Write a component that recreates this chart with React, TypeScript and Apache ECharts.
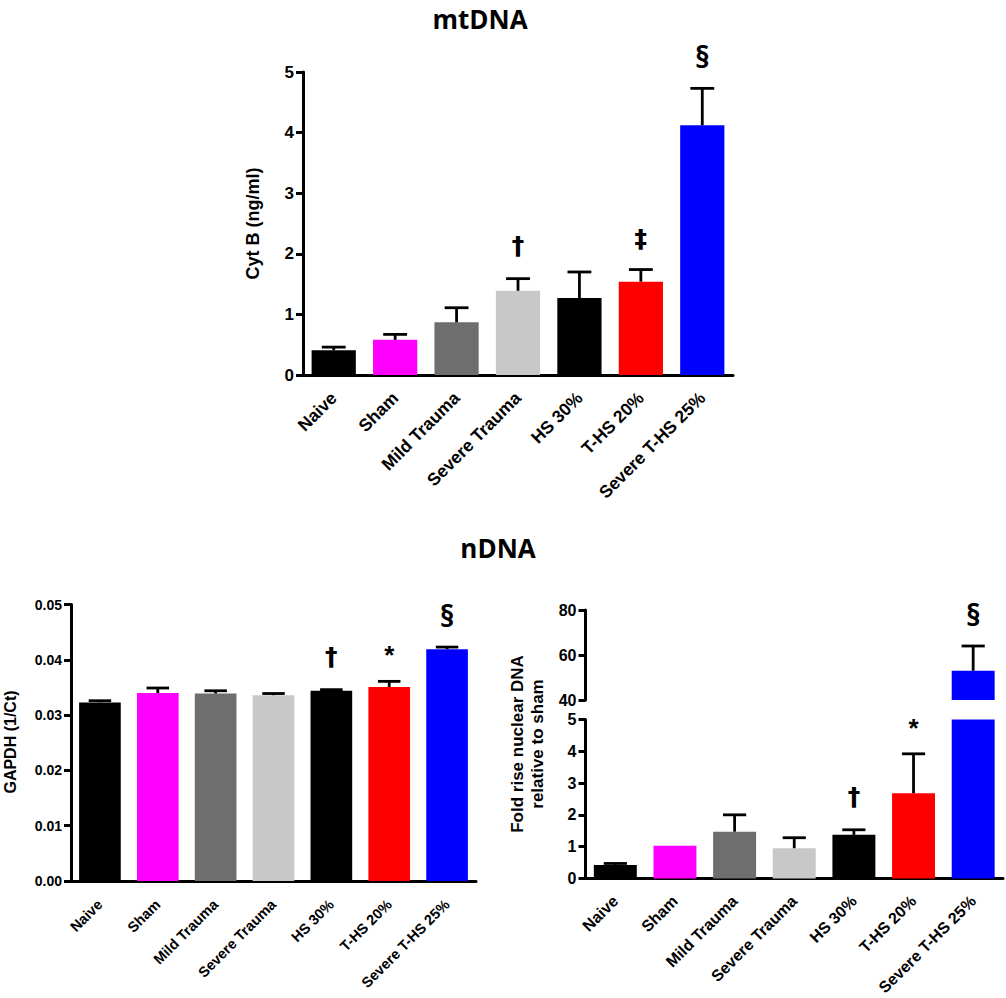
import React, { useEffect, useRef } from 'react';
import * as echarts from 'echarts';

const categories = ['Naive', 'Sham', 'Mild Trauma', 'Severe Trauma', 'HS 30%', 'T-HS 20%', 'Severe T-HS 25%'];
const barColors = ['#000000', '#ff00ff', '#6e6e6e', '#c8c8c8', '#000000', '#ff0000', '#0000ff'];

// mtDNA – Cyt B (ng/ml)
const mtValues = [0.41, 0.58, 0.87, 1.39, 1.27, 1.54, 4.12];
const mtErrTop = [0.46, 0.67, 1.11, 1.59, 1.70, 1.74, 4.73];
const mtMarks = ['', '', '', '†', '', '‡', '§'];

// nDNA – GAPDH (1/Ct)
const gapdhValues = [0.0323, 0.0340, 0.0339, 0.0336, 0.0344, 0.0351, 0.0419];
const gapdhErrTop = [0.0326, 0.0349, 0.0344, 0.0339, 0.0346, 0.0361, 0.0423];
const gapdhMarks = ['', '', '', '', '†', '*', '§'];

// nDNA – Fold rise nuclear DNA relative to sham
const foldValues = [0.42, 1.03, 1.47, 0.95, 1.37, 2.68, 53];
const foldErrTop = [0.47, 1.03, 2.0, 1.28, 1.53, 3.92, 64];
const foldMarks = ['', '', '', '', '†', '*', '§'];

const AX = 'Liberation Sans, Arial, sans-serif';
const TITLE_FONT = 'Open Sans, Lato, sans-serif';
const BAR_W = 0.72;

const markOffset: Record<string, number> = { '†': 33, '‡': 31, '§': 32, '*': 26 };

function markFont(m: string) {
  if (m === '§') return `bold 30px ${TITLE_FONT}`;
  if (m === '*') return `bold 26px ${AX}`;
  return `bold 25px DejaVu Sans, ${AX}`;
}

function barSeries(xi: number, values: (number | string)[]) {
  return {
    type: 'bar',
    xAxisIndex: xi,
    yAxisIndex: xi,
    barWidth: `${BAR_W * 100}%`,
    clip: true,
    data: values.map((v, i) => ({ value: v, itemStyle: { color: barColors[i] } })),
    z: 2,
  };
}

function errSeries(xi: number, values: number[], errTop: number[], marks: string[], keep: (v: number) => boolean) {
  const data: number[][] = [];
  values.forEach((v, i) => {
    if (keep(v)) data.push([i, v, errTop[i]]);
  });
  return {
    type: 'custom',
    xAxisIndex: xi,
    yAxisIndex: xi,
    z: 5,
    clip: false,
    data,
    renderItem: (params: any, api: any) => {
      const i = api.value(0);
      const v = api.value(1);
      const e = api.value(2);
      const p0 = api.coord([i, v]);
      const p1 = api.coord([i, e]);
      const half = api.size([1, 0])[0] * BAR_W * 0.27;
      const st = { stroke: '#000', lineWidth: 2.8 };
      const children: any[] = [];
      if (e > v) {
        children.push({ type: 'line', shape: { x1: p0[0], y1: p0[1], x2: p1[0], y2: p1[1] }, style: st });
        children.push({ type: 'line', shape: { x1: p1[0] - half, y1: p1[1], x2: p1[0] + half, y2: p1[1] }, style: st });
      }
      const m = marks[i];
      if (m) {
        children.push({
          type: 'text',
          x: p1[0],
          y: p1[1] - (markOffset[m] || 30),
          style: { text: m, fill: '#000', font: markFont(m), align: 'center', verticalAlign: 'middle' },
        });
      }
      return { type: 'group', children };
    },
  };
}

function catAxis(gi: number, fontSize: number, margin: number) {
  return {
    type: 'category',
    gridIndex: gi,
    data: categories,
    axisLine: { lineStyle: { color: '#000', width: 3 } },
    axisTick: { alignWithLabel: true, length: 7, lineStyle: { color: '#000', width: 3 } },
    axisLabel: {
      interval: 0,
      rotate: 45,
      margin,
      color: '#000',
      fontWeight: 'bold',
      fontFamily: AX,
      fontSize,
    },
  };
}

function valAxis(gi: number, min: number, max: number, interval: number, fontSize: number, fmt?: (v: number) => string) {
  return {
    type: 'value',
    gridIndex: gi,
    min,
    max,
    interval,
    splitLine: { show: false },
    axisLine: { show: true, lineStyle: { color: '#000', width: 3 } },
    axisTick: { show: true, length: 7, lineStyle: { color: '#000', width: 3 } },
    axisLabel: {
      margin: 9,
      color: '#000',
      fontWeight: 'bold',
      fontFamily: AX,
      fontSize,
      formatter: fmt,
    },
  };
}

export default function App() {
  const ref = useRef<HTMLDivElement>(null);
  useEffect(() => {
    if (!ref.current) return;
    const chart = echarts.init(ref.current, undefined, { renderer: 'svg' });
    const option: any = {
      animation: false,
      backgroundColor: '#ffffff',
      grid: [
        { left: 303, top: 72, width: 430, height: 303 },
        { left: 71, top: 604.5, width: 405, height: 276.5 },
        { left: 585.5, top: 719.5, width: 417.5, height: 162 },
        { left: 585.5, top: 610, width: 417.5, height: 90 },
      ],
      xAxis: [
        catAxis(0, 17.5, 20),
        catAxis(1, 14.5, 21),
        catAxis(2, 16, 20),
        { ...catAxis(3, 16, 12), show: false },
      ],
      yAxis: [
        valAxis(0, 0, 5, 1, 17),
        valAxis(1, 0, 0.05, 0.01, 14, (v: number) => v.toFixed(2)),
        valAxis(2, 0, 5, 1, 16),
        valAxis(3, 40, 80, 20, 16),
      ],
      series: [
        barSeries(0, mtValues),
        errSeries(0, mtValues, mtErrTop, mtMarks, () => true),
        barSeries(1, gapdhValues),
        errSeries(1, gapdhValues, gapdhErrTop, gapdhMarks, () => true),
        barSeries(2, foldValues),
        errSeries(2, foldValues, foldErrTop, foldMarks, (v) => v <= 5),
        barSeries(3, foldValues.map((v) => (v >= 40 ? v : '-'))),
        errSeries(3, foldValues, foldErrTop, foldMarks, (v) => v >= 40),
      ],
      graphic: [
        {
          type: 'text', x: 480, y: 19,
          style: { text: 'mtDNA', fill: '#000', font: `bold 26px ${TITLE_FONT}`, align: 'center', verticalAlign: 'middle' },
        },
        {
          type: 'text', x: 498, y: 548,
          style: { text: 'nDNA', fill: '#000', font: `bold 26px ${TITLE_FONT}`, align: 'center', verticalAlign: 'middle' },
        },
        {
          type: 'text', x: 253, y: 223.5, rotation: Math.PI / 2,
          style: { text: 'Cyt B (ng/ml)', fill: '#000', font: `bold 18px ${AX}`, align: 'center', verticalAlign: 'middle' },
        },
        {
          type: 'text', x: 10, y: 742, rotation: Math.PI / 2,
          style: { text: 'GAPDH (1/Ct)', fill: '#000', font: `bold 16px ${AX}`, align: 'center', verticalAlign: 'middle' },
        },
        {
          type: 'text', x: 527.5, y: 744, rotation: Math.PI / 2,
          style: {
            text: 'Fold rise nuclear DNA\nrelative to sham', fill: '#000', font: `bold 17px ${AX}`,
            lineHeight: 20, align: 'center', verticalAlign: 'middle',
          },
        },
      ],
    };
    chart.setOption(option);
    return () => chart.dispose();
  }, []);
  return <div ref={ref} style={{ position: 'fixed', left: 0, top: 0, width: 1006, height: 998 }} />;
}
